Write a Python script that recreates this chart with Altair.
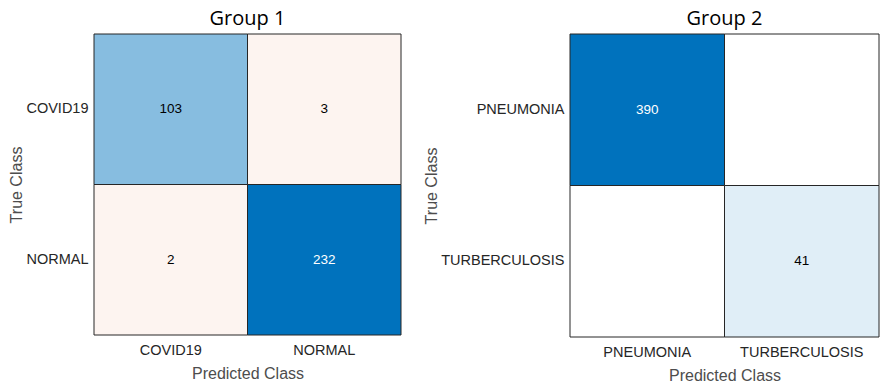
import altair as alt
import pandas as pd

# ---- data ----
g1_classes = ["COVID19", "NORMAL"]
g1_counts = [[103, 3],
             [2, 232]]
g2_classes = ["PNEUMONIA", "TURBERCULOSIS"]
g2_counts = [[390, 0],
             [0, 41]]

DIAG = (0, 114, 189)
OFF = (217, 83, 25)


def blend(c, t):
    r, g, b = [round(255 * (1 - t) + ci * t) for ci in c]
    return f"#{r:02x}{g:02x}{b:02x}"


def make_df(classes, counts):
    dmax = max(counts[i][i] for i in range(len(classes)))
    rows = []
    for i, tc in enumerate(classes):
        for j, pc in enumerate(classes):
            v = counts[i][j]
            if i == j:
                t = (v / dmax) ** 0.93
                fill = blend(DIAG, t)
                tcol = "white" if t > 0.6 else "black"
            else:
                fill = blend(OFF, 0.065) if v > 0 else "#ffffff"
                tcol = "black"
            rows.append({"true": tc, "pred": pc, "value": v, "fill": fill, "tcolor": tcol})
    return pd.DataFrame(rows)


def panel(title, classes, counts, w, h):
    df = make_df(classes, counts)
    base = alt.Chart(df).encode(
        x=alt.X("pred:N", sort=classes, title="Predicted Class",
                axis=alt.Axis(labelAngle=0, labelPadding=8, titlePadding=9)),
        y=alt.Y("true:N", sort=classes, title="True Class",
                axis=alt.Axis(labelPadding=6, titlePadding=1)),
    )
    rect = base.mark_rect(stroke="#262626", strokeWidth=1).encode(
        color=alt.Color("fill:N", scale=None)
    )
    text = base.transform_filter("datum.value > 0").mark_text(
        font="Liberation Sans", fontSize=13.5
    ).encode(
        text="value:Q",
        color=alt.Color("tcolor:N", scale=None),
    )
    return alt.layer(rect, text).properties(
        width=w, height=h,
        title=alt.TitleParams(title, fontSize=20, font="Open Sans",
                              fontWeight="normal", color="black",
                              anchor="middle", offset=5),
    )


left = panel("Group 1", g1_classes, g1_counts, 307, 301)
right = panel("Group 2", g2_classes, g2_counts, 309, 303)

chart = alt.hconcat(left, right, spacing=21).properties(
    padding={"left": 0, "top": 0, "right": 0, "bottom": 0}
).configure_view(stroke=None).configure_axis(
    ticks=False, domain=False, grid=False,
    labelFont="Liberation Sans", labelFontSize=14.5, labelColor="#262626",
    titleFont="Liberation Sans", titleFontSize=16, titleColor="#4d4d4d",
    titleFontWeight="normal",
)

chart.save("out.html", embed_options={"renderer": "svg", "actions": False})
